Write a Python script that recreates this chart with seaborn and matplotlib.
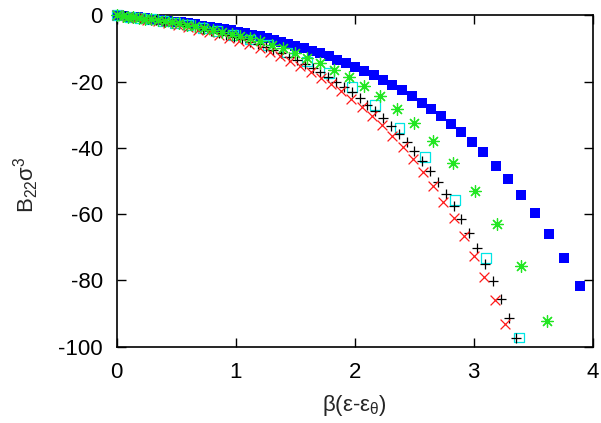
import matplotlib
matplotlib.use("Agg")
import numpy as np
import pandas as pd
import matplotlib.pyplot as plt
import seaborn as sns

# red crosses
x_red = [0.000, 0.086, 0.172, 0.257, 0.343, 0.429, 0.515, 0.601, 0.686, 0.772,
         0.858, 0.944, 1.030, 1.115, 1.201, 1.287, 1.373, 1.459, 1.544, 1.630,
         1.716, 1.802, 1.888, 1.973, 2.059, 2.145, 2.231, 2.317, 2.402, 2.488,
         2.574, 2.660, 2.746, 2.831, 2.917, 3.003, 3.089, 3.175, 3.260]
y_red = [0, -0.40, -0.84, -1.31, -1.81, -2.36, -2.96, -3.60, -4.30, -5.06,
         -5.87, -6.76, -7.71, -8.75, -9.87, -11.08, -12.39, -13.81, -15.34, -17.01,
         -18.80, -20.75, -22.85, -25.13, -27.60, -30.27, -33.15, -36.28, -39.66, -43.32,
         -47.28, -51.56, -56.20, -61.22, -66.65, -72.53, -78.88, -85.77, -93.21]

# green stars
x_green = [0.000, 0.051, 0.095, 0.141, 0.189, 0.239, 0.291, 0.346, 0.403, 0.463,
           0.526, 0.592, 0.661, 0.733, 0.808, 0.886, 0.967, 1.037, 1.121, 1.205,
           1.304, 1.396, 1.500, 1.603, 1.710, 1.828, 1.948, 2.080, 2.209, 2.354,
           2.500, 2.660, 2.828, 3.013, 3.198, 3.400, 3.619]
y_green = [0, -0.19, -0.37, -0.55, -0.76, -0.98, -1.22, -1.49, -1.78, -2.10,
           -2.45, -2.85, -3.28, -3.77, -4.30, -4.90, -5.56, -6.18, -6.96, -7.80,
           -8.88, -9.96, -11.29, -12.74, -14.38, -16.37, -18.62, -21.38, -24.39, -28.20,
           -32.54, -37.97, -44.54, -52.96, -62.84, -75.57, -92.13]

# blue filled squares
x_blue = [0.00, 0.06, 0.12, 0.18, 0.24, 0.30, 0.36, 0.42, 0.48, 0.54,
          0.60, 0.66, 0.72, 0.78, 0.84, 0.90, 0.96, 1.02, 1.08, 1.14,
          1.20, 1.26, 1.32, 1.38, 1.44, 1.50, 1.57, 1.64, 1.71, 1.78,
          1.855, 1.93, 2.005, 2.08, 2.158, 2.236, 2.316, 2.40, 2.484, 2.568,
          2.643, 2.727, 2.811, 2.895, 2.987, 3.080, 3.189, 3.290, 3.399, 3.517,
          3.635, 3.761, 3.896]
y_blue = [0, -0.20, -0.40, -0.62, -0.85, -1.08, -1.33, -1.59, -1.87, -2.15,
          -2.45, -2.77, -3.10, -3.44, -3.80, -4.18, -4.58, -5.00, -5.43, -5.89,
          -6.37, -6.87, -7.40, -7.95, -8.53, -9.13, -9.88, -10.66, -11.49, -12.37,
          -13.36, -14.41, -15.53, -16.71, -18.01, -19.40, -20.92, -22.61, -24.42, -26.35,
          -28.19, -30.37, -32.71, -35.20, -38.13, -41.30, -45.33, -49.39, -54.13, -59.75,
          -65.91, -73.14, -81.72]

# black plus signs
x_black = [0.000, 0.066, 0.132, 0.198, 0.263, 0.329, 0.395, 0.461, 0.527, 0.593,
           0.658, 0.724, 0.790, 0.856, 0.922, 0.988, 1.054, 1.119, 1.185, 1.251,
           1.317, 1.383, 1.449, 1.514, 1.580, 1.646, 1.712, 1.778, 1.844, 1.910,
           1.975, 2.041, 2.107, 2.173, 2.239, 2.305, 2.371, 2.436, 2.502, 2.568,
           2.634, 2.700, 2.766, 2.831, 2.897, 2.963, 3.029, 3.095, 3.161, 3.227,
           3.293, 3.358]
y_black = [0, -0.27, -0.56, -0.87, -1.20, -1.55, -1.93, -2.33, -2.75, -3.20,
           -3.68, -4.19, -4.73, -5.31, -5.92, -6.57, -7.27, -8.01, -8.80, -9.63,
           -10.53, -11.47, -12.49, -13.56, -14.71, -15.92, -17.22, -18.60, -20.06, -21.63,
           -23.29, -25.06, -26.94, -28.94, -31.07, -33.34, -35.76, -38.32, -41.06, -43.97,
           -47.07, -50.36, -53.87, -57.60, -61.57, -65.80, -70.29, -75.08, -80.17, -85.59,
           -91.36, -97.50]

# cyan open squares
x_cyan = [0.000, 0.111, 0.198, 0.290, 0.388, 0.492, 0.603, 0.721, 0.846, 0.979,
          1.121, 1.271, 1.431, 1.602, 1.783, 1.976, 2.172, 2.377, 2.593, 2.845,
          3.106, 3.384]
y_cyan = [0, -0.42, -0.78, -1.20, -1.69, -2.27, -2.95, -3.76, -4.73, -5.89,
          -7.32, -9.06, -11.22, -13.93, -17.35, -21.72, -27.09, -33.94, -42.80, -55.82,
          -73.15, -97.21]

x_ticks = [0, 1, 2, 3, 4]
y_ticks = [-100, -80, -60, -40, -20, 0]

sns.set_theme(style="ticks")
plt.rcParams["font.family"] = ["Liberation Sans", "DejaVu Sans"]
plt.rcParams["mathtext.fontset"] = "custom"
plt.rcParams["mathtext.rm"] = "Liberation Sans"
plt.rcParams["mathtext.it"] = "Liberation Sans"
plt.rcParams["axes.unicode_minus"] = False

fig = plt.figure(figsize=(6.01, 4.23), dpi=100)
ax = fig.add_axes([0.1942, 0.1804, 0.7920, 0.7834])

asterisk = (8, 2, 0)

# gnuplot-like point styles, drawn in this order
sns.scatterplot(x=x_blue, y=y_blue, marker="s", s=52, color="#0000ff",
                edgecolor="none", linewidth=0, ax=ax, clip_on=False, zorder=3)
sns.scatterplot(x=x_cyan, y=y_cyan, marker="s", s=50, color="#00e5e5",
                facecolor="none", edgecolor="#00e5e5", linewidth=0.9,
                ax=ax, clip_on=False, zorder=4)
sns.scatterplot(x=x_black, y=y_black, marker="+", s=58, color="#000000",
                linewidth=0.9, ax=ax, clip_on=False, zorder=5)
sns.scatterplot(x=x_red, y=y_red, marker="x", s=50, color="#ff1a1a",
                linewidth=0.9, ax=ax, clip_on=False, zorder=6)
sns.scatterplot(x=x_green, y=y_green, marker=asterisk, s=72, color="#22e622",
                linewidth=0.9, ax=ax, clip_on=False, zorder=7)

ax.set_xlim(0, 4)
ax.set_ylim(-100, 0)
ax.set_xticks(x_ticks)
ax.set_yticks(y_ticks)
ax.tick_params(direction="in", length=6.5, width=1, labelsize=16,
               top=True, right=True, colors="black")
ax.tick_params(axis="x", pad=11)
ax.tick_params(axis="y", pad=10)
for sp in ax.spines.values():
    sp.set_visible(True)
    sp.set_linewidth(1.2)
    sp.set_color("black")

ax.set_xlabel(r"β(ε-ε$_{\mathregular{θ}}$)", fontsize=16)
ax.set_ylabel(r"B$_{\mathregular{22}}$σ$^{\mathregular{3}}$", fontsize=16)
ax.xaxis.set_label_coords(0.5, -0.14)
ax.yaxis.set_label_coords(-0.16, 0.49)

fig.savefig("out.png", dpi=100)
